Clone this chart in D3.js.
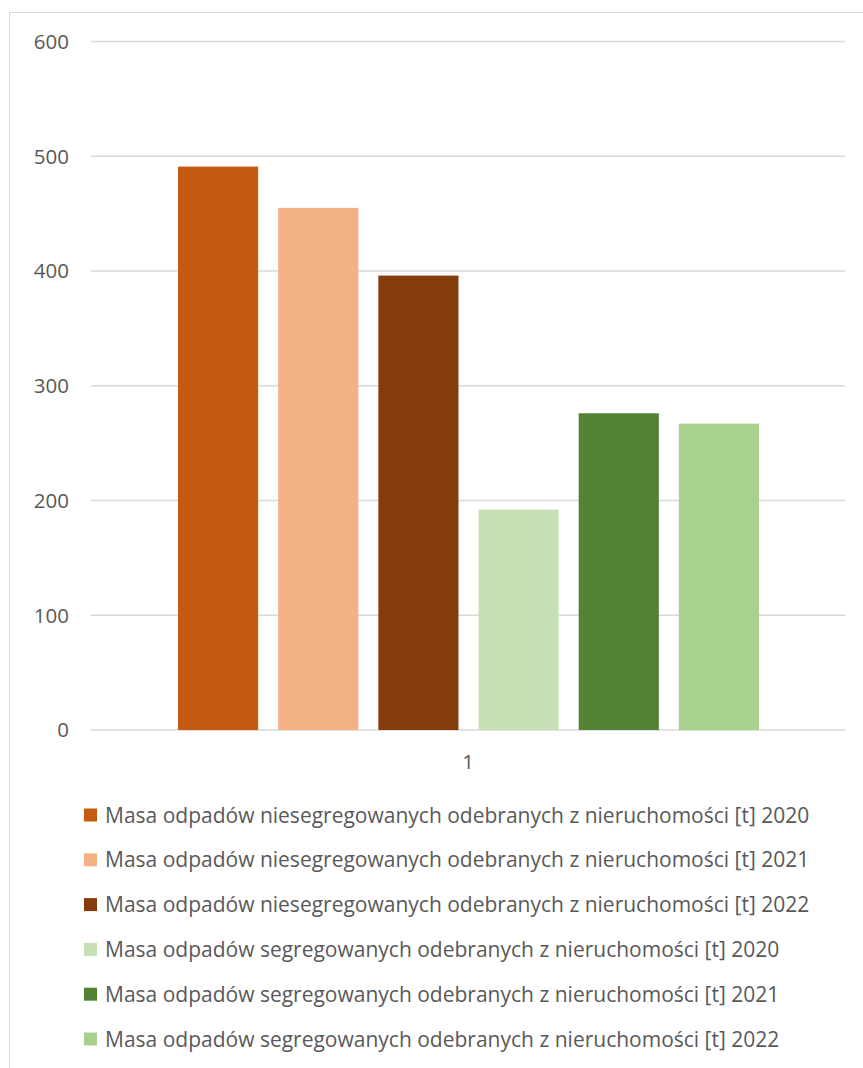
<!DOCTYPE html>
<html>
<meta charset="utf-8">
<style>
    body {
        margin: 0;
        background: white;
    }
    text {
        font-family: "Open Sans", sans-serif;
        fill: #595959;
    }
    .grid line {
        stroke: #d9d9d9;
        stroke-width: 1.5;
    }
</style>
<body>
<script src="https://cdn.jsdelivr.net/npm/d3@7"></script>
<div id="chart"></div>
<script>
var categories = ["1"];
var series = [
    "Masa odpadów niesegregowanych odebranych z nieruchomości [t] 2020",
    "Masa odpadów niesegregowanych odebranych z nieruchomości [t] 2021",
    "Masa odpadów niesegregowanych odebranych z nieruchomości [t] 2022",
    "Masa odpadów segregowanych odebranych z nieruchomości [t] 2020",
    "Masa odpadów segregowanych odebranych z nieruchomości [t] 2021",
    "Masa odpadów segregowanych odebranych z nieruchomości [t] 2022"
];
var values = [491, 455, 396, 192, 276, 267];
var colors = ["#c55a11", "#f4b183", "#843c0c", "#c5e0b4", "#548235", "#a9d18e"];
var yTicks = [0, 100, 200, 300, 400, 500, 600];

var width = 863, height = 1068;
var plot = {left: 91, right: 845, top: 41.5, bottom: 730};

var svg = d3.select("#chart").append("svg")
    .attr("width", width)
    .attr("height", height);

// chart area border (right and bottom edges fall outside the picture)
svg.append("rect")
    .attr("x", 9.5).attr("y", 12.5)
    .attr("width", 870).attr("height", 1080)
    .attr("fill", "none")
    .attr("stroke", "#d9d9d9");

var y = d3.scaleLinear().domain([0, 600]).range([plot.bottom, plot.top]);
var x0 = d3.scaleBand().domain(categories).range([plot.left, plot.right]);
var x1 = d3.scaleBand().domain(d3.range(series.length))
    .range([87, x0.bandwidth() - 86]).paddingInner(0.2).paddingOuter(0);

svg.append("g")
    .attr("class", "grid")
    .selectAll("line")
    .data(yTicks)
    .enter().append("line")
    .attr("x1", plot.left).attr("x2", plot.right)
    .attr("y1", function(d) { return y(d); })
    .attr("y2", function(d) { return y(d); });

svg.append("g").selectAll("text")
    .data(yTicks)
    .enter().append("text")
    .attr("x", 69)
    .attr("y", function(d) { return y(d); })
    .attr("dy", "0.36em")
    .attr("text-anchor", "end")
    .style("font-size", "20.5px")
    .text(function(d) { return d; });

var group = svg.append("g").selectAll("g")
    .data(categories)
    .enter().append("g")
    .attr("transform", function(d) { return "translate(" + x0(d) + ",0)"; });

group.selectAll("rect")
    .data(values)
    .enter().append("rect")
    .attr("x", function(d, i) { return x1(i); })
    .attr("width", x1.bandwidth())
    .attr("y", function(d) { return y(d); })
    .attr("height", function(d) { return y(0) - y(d); })
    .attr("fill", function(d, i) { return colors[i]; });

svg.append("g").selectAll("text")
    .data(categories)
    .enter().append("text")
    .attr("x", function(d) { return x0(d) + x0.bandwidth() / 2; })
    .attr("y", 762)
    .attr("dy", "0.36em")
    .attr("text-anchor", "middle")
    .style("font-size", "20.5px")
    .text(function(d) { return d; });

var legend = svg.append("g").selectAll("g")
    .data(series)
    .enter().append("g")
    .attr("transform", function(d, i) { return "translate(84," + (815 + i * 44.8) + ")"; });

legend.append("rect")
    .attr("x", 0).attr("y", -6.5)
    .attr("width", 13).attr("height", 13)
    .attr("fill", function(d, i) { return colors[i]; });

legend.append("text")
    .attr("x", 21)
    .attr("dy", "0.36em")
    .style("font-size", "21px")
    .text(function(d) { return d; });
</script>
</body>
</html>
